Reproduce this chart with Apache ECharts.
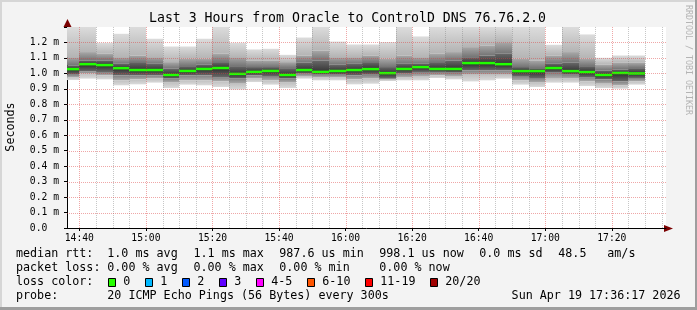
<!DOCTYPE html>
<html>
<head>
<meta charset="utf-8">
<script src="https://cdn.jsdelivr.net/npm/echarts@6/dist/echarts.min.js"></script>
<style>html,body{margin:0;padding:0;background:#f3f3f3;}#c{width:697px;height:310px;}</style>
</head>
<body>
<div id="c"></div>
<script>
// ---- data (RTT in milliseconds, 5-minute steps, labelled by step end time) ----
const times = ['14:40','14:45','14:50','14:55','15:00','15:05','15:10','15:15','15:20','15:25','15:30','15:35',
  '15:40','15:45','15:50','15:55','16:00','16:05','16:10','16:15','16:20','16:25','16:30','16:35',
  '16:40','16:45','16:50','16:55','17:00','17:05','17:10','17:15','17:20','17:25','17:30'];
const median = [1.026,1.058,1.052,1.032,1.020,1.020,0.988,1.014,1.027,1.033,0.995,1.008,1.014,0.988,1.020,1.008,1.014,1.020,
  1.026,1.000,1.027,1.039,1.027,1.027,1.065,1.065,1.058,1.013,1.013,1.033,1.013,1.007,0.988,1.001,0.998];
const maxv = [1.30,1.30,1.198,1.256,1.30,1.224,1.174,1.174,1.224,1.30,1.198,1.155,1.159,1.120,1.232,1.30,1.206,1.187,
  1.187,1.202,1.30,1.239,1.30,1.30,1.30,1.30,1.30,1.30,1.30,1.185,1.30,1.252,1.101,1.116,1.116];
const p90 = [1.105,1.138,1.127,1.105,1.116,1.105,1.073,1.095,1.095,1.127,1.105,1.084,1.084,1.073,1.116,1.148,1.105,1.105,
  1.116,1.095,1.116,1.105,1.127,1.138,1.170,1.181,1.202,1.095,1.084,1.116,1.138,1.095,1.056,1.069,1.069];
const p75 = [1.052,1.084,1.084,1.062,1.073,1.062,1.030,1.047,1.056,1.073,1.047,1.041,1.041,1.034,1.069,1.084,1.056,1.062,
  1.073,1.041,1.062,1.062,1.073,1.084,1.105,1.116,1.127,1.041,1.034,1.062,1.069,1.047,1.019,1.026,1.034];
const p25 = [0.991,1.013,1.009,0.987,0.987,0.987,0.966,0.987,0.987,0.976,0.966,0.987,0.983,0.966,0.998,0.991,0.991,0.987,
  0.991,0.970,0.998,1.009,1.009,1.004,1.019,1.019,1.019,0.983,0.970,1.004,0.991,0.976,0.961,0.948,0.970];
const p10 = [0.976,0.998,0.987,0.955,0.961,0.966,0.940,0.955,0.955,0.948,0.933,0.966,0.955,0.940,0.983,0.976,0.976,0.961,
  0.966,0.959,0.976,0.983,0.987,0.983,0.991,0.991,0.991,0.955,0.940,0.970,0.966,0.948,0.933,0.923,0.948];
const minv = [0.957,0.966,0.961,0.923,0.929,0.940,0.905,0.927,0.923,0.912,0.895,0.944,0.927,0.905,0.966,0.955,0.955,0.929,
  0.933,0.951,0.955,0.955,0.970,0.961,0.948,0.955,0.966,0.927,0.912,0.940,0.940,0.918,0.905,0.901,0.927];

const xStart = '14:36:17', xEnd = '17:36:17';
const xLabels = ['14:40','15:00','15:20','15:40','16:00','16:20','16:40','17:00','17:20'];
const yTicks = [0.1,0.2,0.3,0.4,0.5,0.6,0.7,0.8,0.9,1.0,1.1,1.2];
const stepMin = 5;

const statsRtt = [['median rtt:',16],['1.0 ms avg',107.3],['1.1 ms max',193.5],['987.6 us min',279.3],['998.1 us now',379.3],['0.0 ms sd',479.3],['48.5',558.3],['am/s',607.3]];
const statsLoss = [['packet loss:',16],['0.00 % avg',107.3],['0.00 % max',193.5],['0.00 % min',279.3],['0.00 % now',379.3]];
const lossLabels = ['0','1','2','3','4-5','6-10','11-19','20/20'];
const lossColors = ['#26ff00','#00b8ff','#0059ff','#5e00ff','#ff00ff','#ff5500','#ff0000','#a00000'];
const lossBoxX = [108.5,145.5,182.5,219.5,256.5,307.5,365.5,430.5];

// ---- helpers ----
function toMin(s){ const p=s.split(':').map(Number); return p[0]*60+p[1]+(p[2]||0)/60; }
function fmtTime(v){ const h=Math.floor(v/60), m=Math.round(v-h*60); return String(h).padStart(2,'0')+':'+String(m).padStart(2,'0'); }
const X_MIN = toMin(xStart), X_MAX = toMin(xEnd);
const majorVals = xLabels.map(toMin);
const minorVals = [];
for (let v = majorVals[0]; v < X_MAX; v += stepMin) { if (majorVals.indexOf(v) < 0) minorVals.push(v); }

const smokeData = times.map((t,i)=>[toMin(t), minv[i], p10[i], p25[i], median[i], p75[i], p90[i], maxv[i]]);
const MONO = '"DejaVu Sans Mono", monospace';

function grad(c1, c2){ return new echarts.graphic.LinearGradient(0,0,0,1,[{offset:0,color:c1},{offset:1,color:c2}]); }

function renderSmoke(params, api){
  const t = api.value(0);
  const xa = Math.round(api.coord([t - stepMin, 0])[0]);
  const xb = Math.round(api.coord([t, 0])[0]);
  const Y = i => api.coord([t, api.value(i)])[1];
  const segs = [
    [7,6,'#dcdcdc','#b4b4b4'],
    [6,5,'#a8a8a8','#747474'],
    [5,4,'#686868','#333333'],
    [4,3,'#2e2e2e','#686868'],
    [3,2,'#808080','#ababab'],
    [2,1,'#c0c0c0','#dadada']
  ];
  const children = segs.map(s=>{
    const y0 = Y(s[0]), y1 = Y(s[1]);
    return {type:'rect', shape:{x:xa, y:y0, width:xb-xa, height:Math.max(0,y1-y0)}, style:{fill:grad(s[2],s[3])}};
  });
  const ym = Y(4);
  children.push({type:'rect', shape:{x:xa, y:ym-1.5, width:xb-xa, height:2.5}, style:{fill:'#20ff00'}});
  return {type:'group', children};
}

function renderVLine(color){
  return function(params, api){
    const v = api.value(0);
    const p0 = api.coord([v, 0]), p1 = api.coord([v, 1.3]);
    const x = Math.round(p0[0]) + 0.5;
    return {type:'line', shape:{x1:x, y1:p0[1], x2:x, y2:p1[1]}, style:{stroke:color, lineWidth:1, lineDash:[1,1]}};
  };
}
function renderHLine(params, api){
  const v = api.value(1);
  const p0 = api.coord([X_MIN, v]), p1 = api.coord([X_MAX, v]);
  const y = Math.round(p0[1]) + 0.5;
  return {type:'line', shape:{x1:p0[0], y1:y, x2:p1[0], y2:y}, style:{stroke:'rgba(220,60,60,0.45)', lineWidth:1, lineDash:[1,1]}};
}

const chart = echarts.init(document.getElementById('c'), null, {renderer:'canvas'});

const graphics = [];
graphics.push({type:'rect', shape:{x:0,y:0,width:697,height:2}, style:{fill:'#d6d6d6'}, silent:true});
graphics.push({type:'rect', shape:{x:0,y:0,width:2,height:310}, style:{fill:'#d6d6d6'}, silent:true});
graphics.push({type:'rect', shape:{x:0,y:307,width:697,height:3}, style:{fill:'#9e9e9e'}, silent:true});
graphics.push({type:'rect', shape:{x:695,y:0,width:2,height:310}, style:{fill:'#9e9e9e'}, silent:true});
graphics.push({type:'text', x:347.5, y:19, style:{text:'Last 3 Hours from Oracle to ControlD DNS 76.76.2.0', font:'13.2px '+MONO, fill:'#000', textAlign:'center', textVerticalAlign:'middle'}});
graphics.push({type:'text', x:10.5, y:127, rotation:Math.PI/2, style:{text:'Seconds', font:'11.7px '+MONO, fill:'#000', textAlign:'center', textVerticalAlign:'middle'}});
graphics.push({type:'text', x:688.5, y:60, rotation:-Math.PI/2, style:{text:'RRDTOOL / TOBI OETIKER', font:'8.3px '+MONO, fill:'#b4b4b4', textAlign:'center', textVerticalAlign:'middle'}});
graphics.push({type:'polygon', shape:{points:[[664,225],[673,228.5],[664,232]]}, style:{fill:'#7a0000'}});
graphics.push({type:'polygon', shape:{points:[[63.5,27],[67.5,19],[71.5,27]]}, style:{fill:'#7a0000'}});
function addRow(items, y){ items.forEach(it=>graphics.push({type:'text', x:it[1], y:y, style:{text:it[0], font:'11.7px '+MONO, fill:'#000', textAlign:'left', textVerticalAlign:'middle'}})); }
addRow(statsRtt, 254.3);
addRow(statsLoss, 268.3);
addRow([['loss color:',16]], 282.3);
lossLabels.forEach((l,i)=>{
  graphics.push({type:'rect', shape:{x:lossBoxX[i], y:278.5, width:7, height:8}, style:{fill:lossColors[i], stroke:'#000', lineWidth:1}});
  graphics.push({type:'text', x:lossBoxX[i]+14.8, y:282.3, style:{text:l, font:'11.7px '+MONO, fill:'#000', textAlign:'left', textVerticalAlign:'middle'}});
});
addRow([['probe:',16],['20 ICMP Echo Pings (56 Bytes) every 300s',107.3]], 296.3);
graphics.push({type:'text', x:680.5, y:296.3, style:{text:'Sun Apr 19 17:36:17 2026', font:'11.7px '+MONO, fill:'#000', textAlign:'right', textVerticalAlign:'middle'}});

const option = {
  animation: false,
  backgroundColor: '#f3f3f3',
  grid: {left:67, right:31, top:27, bottom:82, show:true, backgroundColor:'#ffffff', borderWidth:0},
  xAxis: {
    type:'value', min:X_MIN, max:X_MAX,
    axisLine:{show:true, onZero:false, lineStyle:{color:'#000', width:1}},
    axisTick:{show:true, customValues:majorVals, length:3, lineStyle:{color:'#000'}},
    axisLabel:{customValues:majorVals, formatter:fmtTime, margin:5, fontFamily:MONO, fontSize:9.7, color:'#000'},
    splitLine:{show:false}
  },
  yAxis: {
    type:'value', min:0, max:1.3, interval:0.1,
    axisLine:{show:true, lineStyle:{color:'#000', width:1}},
    axisTick:{show:true, length:3, lineStyle:{color:'#000'}},
    axisLabel:{margin:8, fontFamily:MONO, fontSize:9.7, color:'#000',
      formatter:v=> v < 0.05 ? '0.0  ' : (v > 1.25 ? '' : v.toFixed(1)+' m')},
    splitLine:{show:false}
  },
  series: [
    {type:'custom', name:'smoke', clip:true, renderItem:renderSmoke, data:smokeData, encode:{x:0, y:[1,7]}, z:2},
    {type:'custom', name:'minorGrid', clip:true, renderItem:renderVLine('rgba(130,130,130,0.45)'), data:minorVals.map(v=>[v,0]), z:3},
    {type:'custom', name:'majorGrid', clip:true, renderItem:renderVLine('rgba(220,60,60,0.45)'), data:majorVals.map(v=>[v,0]), z:3},
    {type:'custom', name:'hGrid', clip:true, renderItem:renderHLine, data:yTicks.map(v=>[X_MIN,v]), z:3}
  ],
  graphic: graphics
};
chart.setOption(option);
</script>
</body>
</html>
